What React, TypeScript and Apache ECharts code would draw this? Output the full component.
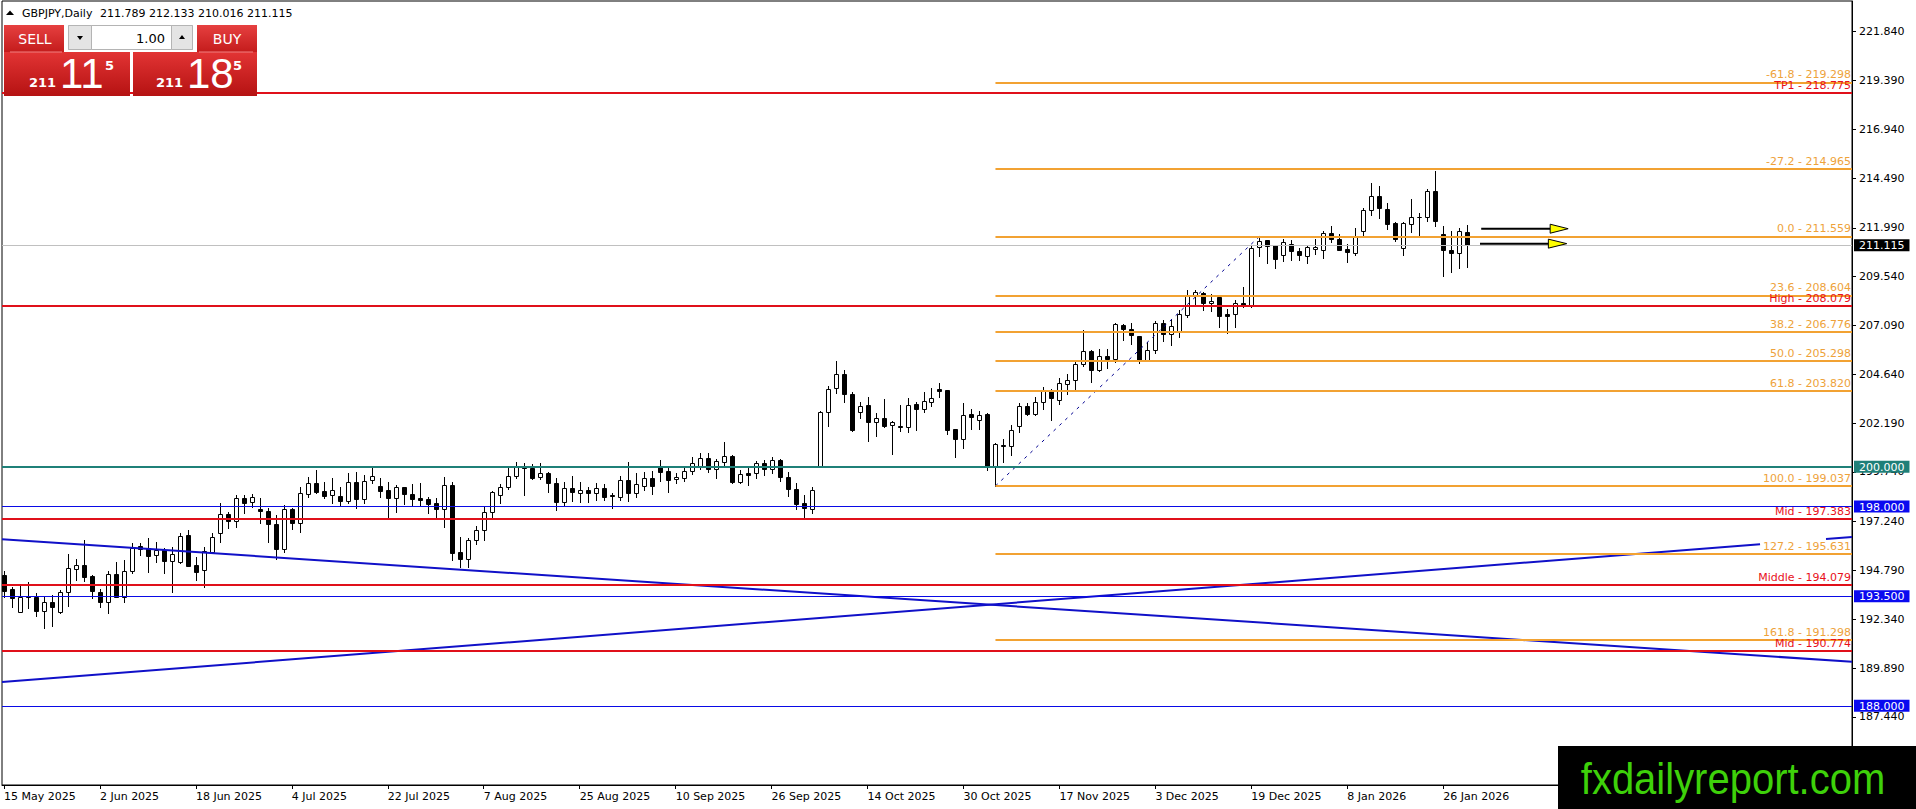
import React, { useEffect, useRef } from 'react';
import * as echarts from 'echarts';

const FONT = '"DejaVu Sans", Tahoma, sans-serif';

const symbolName = 'GBPJPY,Daily';
const dateLabels = ['15 May 2025', '2 Jun 2025', '18 Jun 2025', '4 Jul 2025', '22 Jul 2025', '7 Aug 2025', '25 Aug 2025', '10 Sep 2025', '26 Sep 2025', '14 Oct 2025', '30 Oct 2025', '17 Nov 2025', '3 Dec 2025', '19 Dec 2025', '8 Jan 2026', '26 Jan 2026'];
const dateLabelIndex = [0, 12, 24, 36, 48, 60, 72, 84, 96, 108, 120, 132, 144, 156, 168, 180];
const yTickLabels = [221.84, 219.39, 216.94, 214.49, 211.99, 209.54, 207.09, 204.64, 202.19, 199.74, 197.24, 194.79, 192.34, 189.89, 187.44];

const opens = [
  194.57, 193.85, 192.73, 193.51, 193.48, 192.78, 193.19, 192.73, 193.70, 194.88,
  195.07, 194.52, 193.70, 193.23, 194.60, 193.48, 194.77, 196.04, 195.91, 195.55,
  195.82, 195.29, 195.24, 196.57, 195.07, 194.82, 195.74, 196.66, 197.61, 197.29,
  198.42, 198.21, 197.86, 197.78, 197.11, 195.85, 197.86, 197.16, 198.62, 199.17,
  198.78, 198.57, 198.53, 198.30, 199.22, 198.40, 199.32, 199.03, 198.82, 198.42,
  198.97, 198.63, 198.43, 198.38, 198.20, 197.86, 199.08, 195.70, 195.35, 196.32,
  196.83, 197.75, 198.57, 198.97, 199.55, 200.06, 199.92, 199.50, 199.67, 199.17,
  198.21, 198.92, 198.67, 198.83, 198.67, 198.95, 198.57, 198.50, 199.34, 198.70,
  199.05, 199.45, 200.04, 199.79, 199.37, 199.45, 199.79, 200.05, 200.42, 199.87,
  200.26, 200.56, 199.25, 199.67, 199.67, 200.17, 199.87, 200.34, 199.50, 198.87,
  198.16, 197.86, 200.04, 202.73, 203.94, 204.66, 203.64, 202.77, 203.10, 202.23,
  202.43, 202.10, 202.06, 201.99, 203.13, 202.91, 203.25, 203.92, 203.83, 201.88,
  201.37, 202.63, 202.33, 202.63, 200.03, 201.09, 201.02, 202.04, 203.03, 202.66,
  203.25, 203.87, 203.36, 204.17, 204.37, 205.17, 205.81, 204.84, 205.56, 205.41,
  207.13, 206.93, 206.54, 205.34, 205.87, 207.23, 206.68, 206.81, 207.63, 208.57,
  208.74, 208.24, 208.52, 207.65, 207.65, 208.24, 208.10, 211.03, 211.36, 211.11,
  210.64, 211.20, 210.81, 210.58, 210.95, 210.86, 211.75, 211.45, 210.95, 210.73,
  211.83, 212.90, 213.57, 212.95, 212.23, 211.00, 212.20, 212.55, 212.54, 213.82,
  211.70, 210.88, 210.75, 211.789
];
const highs = [
  194.78, 193.95, 194.06, 194.23, 193.65, 193.48, 193.56, 193.81, 195.62, 195.37,
  196.32, 194.57, 193.86, 194.78, 195.24, 195.32, 196.16, 196.16, 196.41, 196.24,
  195.91, 195.96, 196.69, 196.83, 195.49, 195.96, 196.69, 198.16, 197.75, 198.58,
  198.58, 198.63, 198.42, 197.91, 197.58, 198.08, 197.91, 198.97, 199.50, 199.84,
  199.22, 199.42, 199.00, 199.67, 199.72, 199.59, 199.92, 199.42, 199.25, 199.08,
  199.00, 199.12, 199.17, 198.50, 198.42, 199.50, 199.25, 196.49, 196.41, 197.03,
  197.96, 198.80, 199.13, 199.92, 200.26, 200.17, 200.14, 200.21, 199.75, 199.42,
  199.22, 199.54, 199.25, 199.00, 199.17, 199.12, 198.67, 199.54, 200.22, 199.67,
  199.75, 199.79, 200.34, 199.92, 199.70, 200.05, 200.47, 200.71, 200.71, 200.37,
  201.23, 200.59, 199.84, 199.92, 200.29, 200.34, 200.47, 200.41, 199.72, 199.17,
  198.58, 199.00, 202.80, 204.05, 205.31, 204.86, 203.77, 203.23, 203.52, 202.72,
  203.40, 202.30, 203.08, 203.47, 203.25, 203.75, 203.97, 204.22, 203.87, 201.91,
  203.21, 202.88, 202.78, 202.70, 201.19, 201.41, 202.08, 203.20, 203.20, 203.50,
  204.00, 203.92, 204.47, 204.64, 205.34, 206.85, 205.87, 205.89, 205.93, 207.21,
  207.18, 207.21, 206.58, 206.26, 207.31, 207.35, 207.38, 207.85, 208.89, 208.85,
  208.77, 208.69, 208.55, 207.93, 208.35, 209.02, 211.11, 211.559, 211.40, 211.15,
  211.45, 211.36, 211.00, 211.06, 211.41, 211.83, 212.10, 211.70, 211.16, 212.00,
  212.99, 214.26, 214.09, 213.26, 212.28, 212.28, 213.46, 212.74, 213.92, 214.83,
  212.07, 211.83, 212.00, 212.133
];
const lows = [
  193.48, 192.98, 192.71, 192.89, 192.51, 191.89, 192.01, 192.68, 193.03, 194.32,
  194.28, 193.39, 192.98, 192.68, 193.45, 193.23, 194.65, 195.57, 194.73, 195.24,
  194.68, 193.73, 195.19, 195.02, 194.32, 193.98, 195.65, 196.21, 196.91, 196.99,
  197.66, 198.00, 197.19, 196.24, 195.35, 195.74, 196.88, 196.74, 198.47, 198.67,
  198.42, 198.20, 198.05, 198.16, 197.91, 198.20, 199.17, 198.50, 197.41, 197.71,
  198.13, 198.08, 198.08, 197.70, 197.41, 196.99, 195.32, 194.98, 194.98, 196.12,
  196.32, 197.38, 198.16, 198.87, 199.42, 198.58, 199.37, 199.37, 198.75, 197.83,
  198.08, 198.30, 198.25, 198.25, 198.33, 198.33, 197.91, 198.33, 198.30, 198.47,
  198.83, 198.63, 199.30, 198.75, 199.17, 199.28, 199.62, 199.89, 199.75, 199.45,
  200.04, 199.17, 199.17, 199.08, 199.42, 199.59, 199.67, 199.30, 198.55, 197.90,
  197.46, 197.70, 200.00, 202.06, 203.72, 203.27, 201.81, 202.43, 201.31, 201.56,
  202.01, 200.64, 201.79, 201.74, 201.83, 202.75, 203.03, 203.50, 201.62, 200.49,
  200.94, 201.91, 201.88, 199.82, 199.037, 200.24, 200.57, 201.74, 202.58, 202.58,
  202.91, 202.33, 203.13, 203.67, 203.92, 205.04, 204.25, 204.80, 204.97, 205.26,
  206.38, 206.14, 205.21, 205.29, 205.71, 206.31, 206.13, 206.51, 207.51, 208.15,
  207.88, 207.82, 207.01, 206.71, 207.01, 208.02, 208.02, 210.56, 210.23, 209.98,
  210.33, 210.36, 210.36, 210.23, 210.69, 210.49, 211.28, 210.86, 210.28, 210.63,
  211.58, 212.62, 212.50, 211.95, 211.31, 210.64, 211.78, 211.53, 212.33, 212.07,
  209.57, 209.77, 209.99, 210.016
];
const closes = [
  193.78, 193.39, 193.48, 193.48, 192.78, 193.19, 192.98, 193.70, 194.90, 195.05,
  194.48, 193.78, 193.23, 194.60, 193.48, 194.77, 195.91, 195.87, 195.54, 195.82,
  195.29, 195.62, 196.52, 195.03, 194.73, 195.79, 196.46, 197.61, 197.29, 198.42,
  198.20, 198.47, 197.76, 197.11, 195.85, 197.86, 197.19, 198.67, 199.17, 198.75,
  198.55, 198.82, 198.30, 199.22, 198.40, 199.30, 199.54, 198.80, 198.42, 198.97,
  198.62, 198.36, 198.33, 198.13, 197.86, 199.08, 195.69, 195.35, 196.32, 196.83,
  197.75, 198.72, 198.97, 199.55, 200.04, 199.92, 199.42, 199.67, 199.17, 198.21,
  198.92, 198.72, 198.82, 198.67, 198.92, 198.50, 198.53, 199.34, 198.70, 199.12,
  199.45, 199.05, 199.75, 199.34, 199.50, 199.79, 200.17, 200.42, 199.87, 200.29,
  200.56, 199.25, 199.62, 199.60, 200.17, 199.87, 200.34, 199.50, 198.87, 198.13,
  197.91, 198.83, 202.77, 203.89, 204.66, 203.64, 201.85, 203.05, 202.23, 202.43,
  202.05, 202.26, 201.99, 203.08, 202.90, 203.28, 203.47, 203.80, 201.83, 201.37,
  202.61, 202.49, 202.61, 200.03, 201.12, 201.06, 201.86, 203.03, 202.66, 203.25,
  203.87, 203.47, 204.20, 204.37, 205.17, 205.81, 204.84, 205.56, 205.41, 207.18,
  206.93, 206.63, 205.34, 205.87, 207.23, 206.68, 207.06, 207.68, 208.60, 208.77,
  208.24, 208.34, 207.57, 207.58, 208.24, 208.13, 211.00, 211.35, 211.10, 210.43,
  211.26, 210.85, 210.63, 211.03, 211.05, 211.75, 211.45, 210.90, 210.76, 211.60,
  212.90, 213.57, 213.00, 212.20, 211.41, 212.25, 212.54, 212.52, 213.82, 212.33,
  210.90, 210.75, 211.82, 211.115
];

const fibRatios = [-61.8, -27.2, 0.0, 23.6, 38.2, 50.0, 61.8, 100.0, 127.2, 161.8];
const fibPrices = [219.298, 214.965, 211.559, 208.604, 206.776, 205.298, 203.820, 199.037, 195.631, 191.298];
const fibStartIndex = 124;
const redNames = ['TP1', 'High', 'Mid', 'Middle', 'Mid'];
const redPrices = [218.775, 208.079, 197.383, 194.079, 190.774];
const blueLevels = [198.0, 193.5, 188.0];
const tealLevel = 200.0;
const lastPrice = 211.115;

const trendDown = [[-0.25, 196.36], [231.125, 190.21]];
const trendUp = [[-0.25, 189.19], [219.625, 196.11]];
const trendUpTail = [[227.875, 196.37], [231.125, 196.47]];
const fibAnchor = [[124, 199.037], [157, 211.559]];
const arrowStart = [184.75, 184.6];
const arrowEnd = [193.375, 193.15];
const arrowTip = [195.625, 195.45];
const arrowLevel = [211.95, 211.2];

const sellPrice = ['211', '11', '5'];
const buyPrice = ['211', '18', '5'];
const lotSize = '1.00';

const X_MIN = -0.25;
const X_MAX = 231.125;
const Y_MIN = 184.024;
const Y_MAX = 223.381;

const boxLevels = [lastPrice, tealLevel, ...blueLevels];
const boxStyles = ['k', 't', 'b', 'b', 'b'];

function buildOption() {
  const candleData = opens.map((o, i) => [i, o, highs[i], lows[i], closes[i]]);
  const n = opens.length - 1;
  const header = `${opens[n].toFixed(3)} ${highs[n].toFixed(3)} ${lows[n].toFixed(3)} ${closes[n].toFixed(3)}`;

  const fibLines = fibPrices.map((p, k) => [
    { name: `${fibRatios[k].toFixed(1)} - ${p.toFixed(3)}`, coord: [fibStartIndex, p] },
    { coord: [X_MAX, p] },
  ]);
  const redLines = redPrices.map((p, k) => ({ name: `${redNames[k]} - ${p.toFixed(3)}`, yAxis: p }));

  const lineLabel = (color: string) => ({
    show: true,
    position: 'insideEndTop',
    formatter: '{b}',
    color,
    fontFamily: FONT,
    fontSize: 11,
    distance: [1, 2],
  });

  const white = '#ffffff';
  const redGrad = new echarts.graphic.LinearGradient(0, 0, 0, 1, [
    { offset: 0, color: '#e23434' },
    { offset: 1, color: '#b51212' },
  ]);
  const btnGrad = new echarts.graphic.LinearGradient(0, 0, 0, 1, [
    { offset: 0, color: '#e64040' },
    { offset: 1, color: '#c41c1c' },
  ]);

  const panel: any[] = [
    { type: 'rect', shape: { x: 4, y: 25, width: 60, height: 27 }, style: { fill: btnGrad } },
    { type: 'rect', shape: { x: 197, y: 25, width: 60, height: 27 }, style: { fill: btnGrad } },
    { type: 'rect', shape: { x: 4, y: 52, width: 126, height: 44 }, style: { fill: redGrad } },
    { type: 'rect', shape: { x: 133, y: 52, width: 124, height: 44 }, style: { fill: redGrad } },
    { type: 'line', shape: { x1: 10, y1: 52, x2: 62, y2: 52 }, style: { stroke: '#f08080', lineWidth: 1 } },
    { type: 'line', shape: { x1: 199, y1: 52, x2: 253, y2: 52 }, style: { stroke: '#f08080', lineWidth: 1 } },
    { type: 'rect', shape: { x: 68.5, y: 25.5, width: 124, height: 24 }, style: { fill: '#ffffff', stroke: '#b4b4b4', lineWidth: 1 } },
    { type: 'rect', shape: { x: 68.5, y: 25.5, width: 23, height: 24 }, style: { fill: '#e4e4e4', stroke: '#b4b4b4', lineWidth: 1 } },
    { type: 'rect', shape: { x: 171.5, y: 25.5, width: 21, height: 24 }, style: { fill: '#e4e4e4', stroke: '#b4b4b4', lineWidth: 1 } },
    { type: 'polygon', shape: { points: [[77, 36], [83, 36], [80, 40]] }, style: { fill: '#000' } },
    { type: 'polygon', shape: { points: [[179, 39], [185, 39], [182, 35]] }, style: { fill: '#000' } },
    { type: 'text', style: { x: 165, y: 38, text: lotSize, fill: '#000', font: `13px ${FONT}`, align: 'right', verticalAlign: 'middle' } },
    { type: 'text', style: { x: 35, y: 39, text: 'SELL', fill: white, font: `14px ${FONT}`, align: 'center', verticalAlign: 'middle' } },
    { type: 'text', style: { x: 227, y: 39, text: 'BUY', fill: white, font: `14px ${FONT}`, align: 'center', verticalAlign: 'middle' } },
    { type: 'text', style: { x: 29, y: 89, text: sellPrice[0], fill: white, font: `bold 13px ${FONT}`, align: 'left', verticalAlign: 'bottom' } },
    { type: 'text', style: { x: 60, y: 94, text: sellPrice[1], fill: white, font: `42px "Liberation Sans", Arial, sans-serif`, align: 'left', verticalAlign: 'bottom' } },
    { type: 'text', style: { x: 105, y: 59, text: sellPrice[2], fill: white, font: `bold 13px ${FONT}`, align: 'left', verticalAlign: 'top' } },
    { type: 'text', style: { x: 156, y: 89, text: buyPrice[0], fill: white, font: `bold 13px ${FONT}`, align: 'left', verticalAlign: 'bottom' } },
    { type: 'text', style: { x: 187, y: 94, text: buyPrice[1], fill: white, font: `42px "Liberation Sans", Arial, sans-serif`, align: 'left', verticalAlign: 'bottom' } },
    { type: 'text', style: { x: 233, y: 59, text: buyPrice[2], fill: white, font: `bold 13px ${FONT}`, align: 'left', verticalAlign: 'top' } },
  ].map((e) => ({ ...e, z: 100 }));

  const headerEls: any[] = [
    { type: 'rect', shape: { x: 3, y: 2, width: 300, height: 20 }, style: { fill: '#ffffff' } },
    { type: 'polygon', shape: { points: [[6, 15], [10, 10.5], [14, 15]] }, style: { fill: '#000' } },
    { type: 'text', style: { x: 22, y: 13, text: symbolName, fill: '#000', font: `11px ${FONT}`, verticalAlign: 'middle' } },
    { type: 'text', style: { x: 100, y: 13, text: header, fill: '#000', font: `11px ${FONT}`, verticalAlign: 'middle' } },
  ].map((e) => ({ ...e, z: 100 }));

  const logo: any[] = [
    { type: 'rect', shape: { x: 1558, y: 746, width: 358, height: 63 }, style: { fill: '#000' }, z: 100 },
    {
      type: 'text',
      x: 1733,
      y: 779,
      scaleY: 1.12,
      style: { x: 0, y: 0, text: 'fxdailyreport.com', fill: '#3ed10a', font: `40px "Liberation Sans", Arial, sans-serif`, align: 'center', verticalAlign: 'middle' },
      z: 101,
    },
  ];

  return {
    animation: false,
    backgroundColor: '#ffffff',
    grid: { left: 2, right: 64, top: 1, bottom: 24, show: true, borderColor: '#000', borderWidth: 1, backgroundColor: 'transparent' },
    xAxis: {
      type: 'value',
      min: X_MIN,
      max: X_MAX,
      axisLine: { show: true, onZero: false, lineStyle: { color: '#000', width: 1 } },
      axisTick: { show: true, customValues: dateLabelIndex, length: 4, lineStyle: { color: '#000' } },
      axisLabel: {
        customValues: dateLabelIndex,
        formatter: (v: number) => {
          const k = dateLabelIndex.indexOf(Math.round(v));
          return k >= 0 ? dateLabels[k] : '';
        },
        align: 'left',
        margin: 6,
        color: '#000',
        fontFamily: FONT,
        fontSize: 11,
      },
      splitLine: { show: false },
    },
    yAxis: [
      {
        type: 'value',
        position: 'right',
        min: Y_MIN,
        max: Y_MAX,
        axisLine: { show: true, onZero: false, lineStyle: { color: '#000', width: 1 } },
        axisTick: { show: true, customValues: yTickLabels, length: 4, lineStyle: { color: '#000' } },
        axisLabel: {
          customValues: yTickLabels,
          formatter: (v: number) => v.toFixed(3),
          margin: 7,
          color: '#000',
          fontFamily: FONT,
          fontSize: 11,
        },
        splitLine: { show: false },
      },
      {
        type: 'value',
        position: 'right',
        min: Y_MIN,
        max: Y_MAX,
        axisLine: { show: false, onZero: false },
        axisTick: { show: false },
        minorTick: { show: false },
        splitLine: { show: false },
        axisLabel: {
          customValues: boxLevels,
          margin: 2,
          formatter: (v: number) => {
            let k = 0;
            boxLevels.forEach((b, j) => {
              if (Math.abs(b - v) < 1e-6) k = j;
            });
            return `{${boxStyles[k]}|${v.toFixed(3)}}`;
          },
          rich: {
            k: { backgroundColor: '#000000', color: '#fff', padding: [1, 5, 0, 5], fontFamily: FONT, fontSize: 11, lineHeight: 13 },
            t: { backgroundColor: '#1f7f78', color: '#fff', padding: [1, 5, 0, 5], fontFamily: FONT, fontSize: 11, lineHeight: 12 },
            b: { backgroundColor: '#0a0af0', color: '#fff', padding: [1, 5, 0, 5], fontFamily: FONT, fontSize: 11, lineHeight: 13 },
          },
        },
      },
    ],
    series: [
      {
        type: 'custom',
        name: 'candles',
        clip: true,
        z: 2,
        encode: { x: 0, y: [1, 2, 3, 4] },
        data: candleData,
        renderItem: (_p: any, api: any) => {
          const i = api.value(0);
          const o = api.value(1);
          const h = api.value(2);
          const l = api.value(3);
          const c = api.value(4);
          const pH = api.coord([i, h]);
          const pL = api.coord([i, l]);
          const pO = api.coord([i, o]);
          const pC = api.coord([i, c]);
          const x = Math.round(pH[0]) + 0.5;
          const top = Math.round(Math.min(pO[1], pC[1])) + 0.5;
          const bot = Math.round(Math.max(pO[1], pC[1])) + 0.5;
          const up = c >= o;
          return {
            type: 'group',
            children: [
              { type: 'line', shape: { x1: x, y1: Math.round(pH[1]), x2: x, y2: Math.round(pL[1]) + 1 }, style: { stroke: '#000', lineWidth: 1 } },
              { type: 'rect', shape: { x: x - 2, y: top, width: 4, height: Math.max(bot - top, 0) }, style: { fill: up ? '#fff' : '#000', stroke: '#000', lineWidth: 1 } },
            ],
          };
        },
      },
      {
        type: 'line',
        name: 'price',
        data: [],
        z: 3,
        silent: true,
        markLine: {
          silent: true,
          symbol: 'none',
          animation: false,
          lineStyle: { color: '#c0c0c0', width: 1, type: 'solid' },
          label: { show: false },
          data: [{ yAxis: lastPrice }],
        },
      },
      {
        type: 'line',
        name: 'blue',
        data: [],
        z: 3,
        markLine: {
          silent: true,
          symbol: 'none',
          animation: false,
          lineStyle: { color: '#0a0ae6', width: 1, type: 'solid' },
          label: { show: false },
          data: blueLevels.map((v) => ({ yAxis: v })),
        },
      },
      {
        type: 'line',
        name: 'teal',
        data: [],
        z: 3,
        markLine: {
          silent: true,
          symbol: 'none',
          animation: false,
          lineStyle: { color: '#1f8078', width: 2, type: 'solid' },
          label: { show: false },
          data: [{ yAxis: tealLevel }],
        },
      },
      {
        type: 'line',
        name: 'trendDown',
        data: trendDown,
        z: 4,
        symbol: 'none',
        silent: true,
        lineStyle: { color: '#1010c8', width: 2 },
      },
      {
        type: 'line',
        name: 'trendUp',
        data: trendUp,
        z: 4,
        symbol: 'none',
        silent: true,
        lineStyle: { color: '#1010c8', width: 2 },
      },
      {
        type: 'line',
        name: 'trendUpTail',
        data: trendUpTail,
        z: 4,
        symbol: 'none',
        silent: true,
        lineStyle: { color: '#1010c8', width: 2 },
      },
      {
        type: 'line',
        name: 'fibAnchor',
        data: fibAnchor,
        z: 4,
        symbol: 'none',
        silent: true,
        lineStyle: { color: '#000090', width: 1, type: [3, 5] },
      },
      {
        type: 'line',
        name: 'red',
        data: [],
        z: 5,
        markLine: {
          silent: true,
          symbol: 'none',
          animation: false,
          lineStyle: { color: '#e0101a', width: 2, type: 'solid' },
          label: lineLabel('#e8101a'),
          data: redLines,
        },
      },
      {
        type: 'line',
        name: 'fib',
        data: [],
        z: 6,
        markLine: {
          silent: true,
          symbol: 'none',
          animation: false,
          lineStyle: { color: '#f2a232', width: 2, type: 'solid' },
          label: lineLabel('#eea23a'),
          data: fibLines,
        },
      },
      {
        type: 'custom',
        name: 'arrows',
        z: 7,
        clip: true,
        encode: { x: [0, 1, 2], y: 3 },
        data: arrowStart.map((s, k) => [s, arrowEnd[k], arrowTip[k], arrowLevel[k]]),
        renderItem: (_p: any, api: any) => {
          const lv = api.value(3);
          const s = api.coord([api.value(0), lv]);
          const e = api.coord([api.value(1), lv]);
          const t = api.coord([api.value(2), lv]);
          return {
            type: 'group',
            children: [
              { type: 'line', shape: { x1: s[0], y1: s[1], x2: e[0], y2: e[1] }, style: { stroke: '#000', lineWidth: 2 } },
              { type: 'polygon', shape: { points: [[e[0], e[1] - 4.5], [t[0], t[1]], [e[0], e[1] + 4.5]] }, style: { fill: '#ffff00', stroke: '#000', lineWidth: 1 } },
            ],
          };
        },
      },
    ],
    graphic: [...headerEls, ...panel, ...logo],
  };
}

export default function App() {
  const ref = useRef<HTMLDivElement>(null);
  useEffect(() => {
    if (!ref.current) return;
    const chart = echarts.init(ref.current, undefined, { renderer: 'svg' });
    chart.setOption(buildOption() as any);
    return () => chart.dispose();
  }, []);
  return (
    <div style={{ position: 'fixed', left: 0, top: 0, width: 1916, height: 809, background: '#fff' }}>
      <div ref={ref} style={{ width: 1916, height: 809 }} />
    </div>
  );
}
